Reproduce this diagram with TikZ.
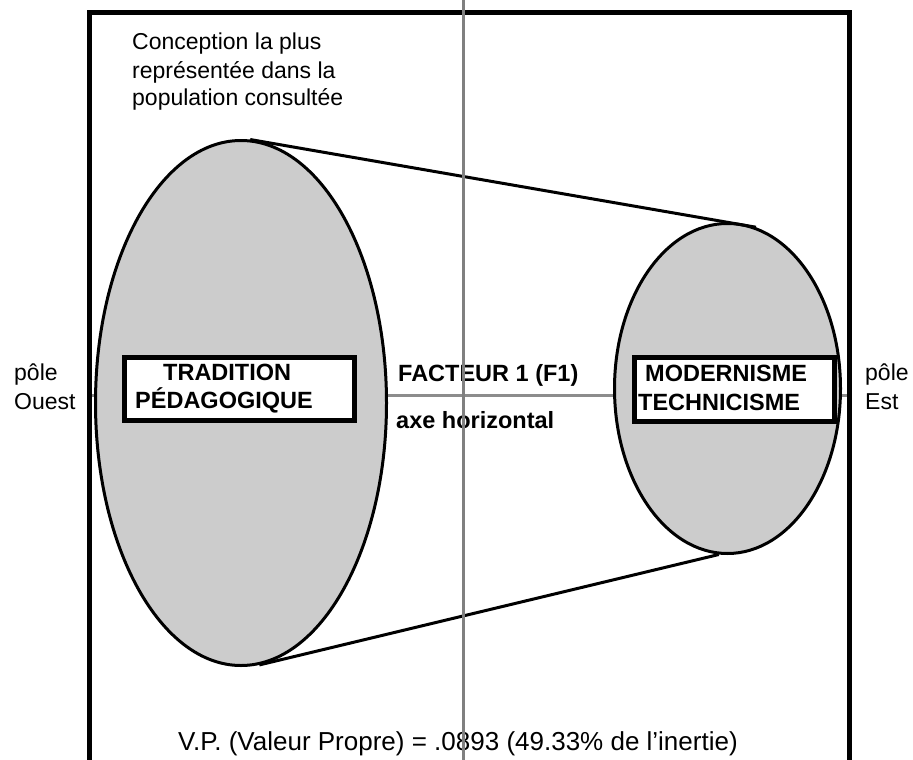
\documentclass[tikz,border=0pt]{standalone}
\usepackage{fontspec}
\setmainfont{Liberation Sans}
\usetikzlibrary{shapes.geometric}
\begin{document}
\begin{tikzpicture}[x=1pt,y=-1pt,
  lbl/.style={font=\fontsize{23}{28}\selectfont, inner sep=0pt, anchor=base west},
  blbl/.style={font=\fontsize{23.5}{28}\selectfont\bfseries, inner sep=0pt, anchor=base west},
  blob/.style={ellipse, draw, line width=3pt, fill=black!20, inner sep=0pt},
  tbox/.style={draw, line width=5pt, fill=white, inner sep=0pt},
  axisline/.style={draw=black!45, line width=3pt},
  tangent/.style={line width=3pt},
  frameline/.style={line width=5pt, line join=miter}]
\useasboundingbox (0,0) rectangle (913,760);
% frame and axes coordinates
\coordinate (fbl) at (89,762);
\coordinate (ftl) at (89,13);
\coordinate (ftr) at (849,13);
\coordinate (fbr) at (849,762);
\coordinate (axL) at (91,395);
\coordinate (axR) at (847,395);
\coordinate (vT) at (463,0);
\coordinate (vB) at (463,760);
% horizontal axis
\draw[axisline] (axL) -- (axR);
% ellipses
\node[blob, minimum width=291, minimum height=525] (ellL) at (241,403) {};
\node[blob, minimum width=226, minimum height=330] (ellR) at (727.5,388.5) {};
% tangent lines
\draw[tangent] (ellL.88) -- (ellR.80);
\draw[tangent] (ellL.-86) -- (ellR.-93);
% boxes
\node[tbox, minimum width=230, minimum height=63] (boxT) at (239.5,389) {};
\node[tbox, minimum width=200, minimum height=64] (boxM) at (734.5,389.5) {};
% frame
\draw[frameline] (fbl) -- (ftl) -- (ftr) -- (fbr);
% texts
\node[lbl] (c1) at (132,50) {Conception la plus};
\node[lbl] (c2) at (132,78) {représentée dans la};
\node[lbl] (c3) at (132,106) {population consultée};
\node[lbl] (pO1) at (14,380) {pôle};
\node[lbl] (pO2) at (14,409) {Ouest};
\node[lbl] (pE1) at (865,380) {pôle};
\node[lbl] (pE2) at (865,409) {Est};
\node[blbl] (t1) at (163,380) {TRADITION};
\node[blbl] (t2) at (135,408) {PÉDAGOGIQUE};
\node[blbl] (m1) at (645,381) {MODERNISME};
\node[blbl] (m2) at (638,410) {TECHNICISME};
\node[blbl] (f1) at (398,381) {FACTEUR 1 (F1)};
\node[blbl] (f2) at (396,428) {axe horizontal};
\node[font=\fontsize{26}{30}\selectfont, inner sep=0pt, anchor=base west] (vp) at (178,750) {V.P. (Valeur Propre) = .0893 (49.33\% de l’inertie)};
% vertical axis
\draw[draw=black!50, line width=3pt] (vT) -- (vB);
\end{tikzpicture}
\end{document}
